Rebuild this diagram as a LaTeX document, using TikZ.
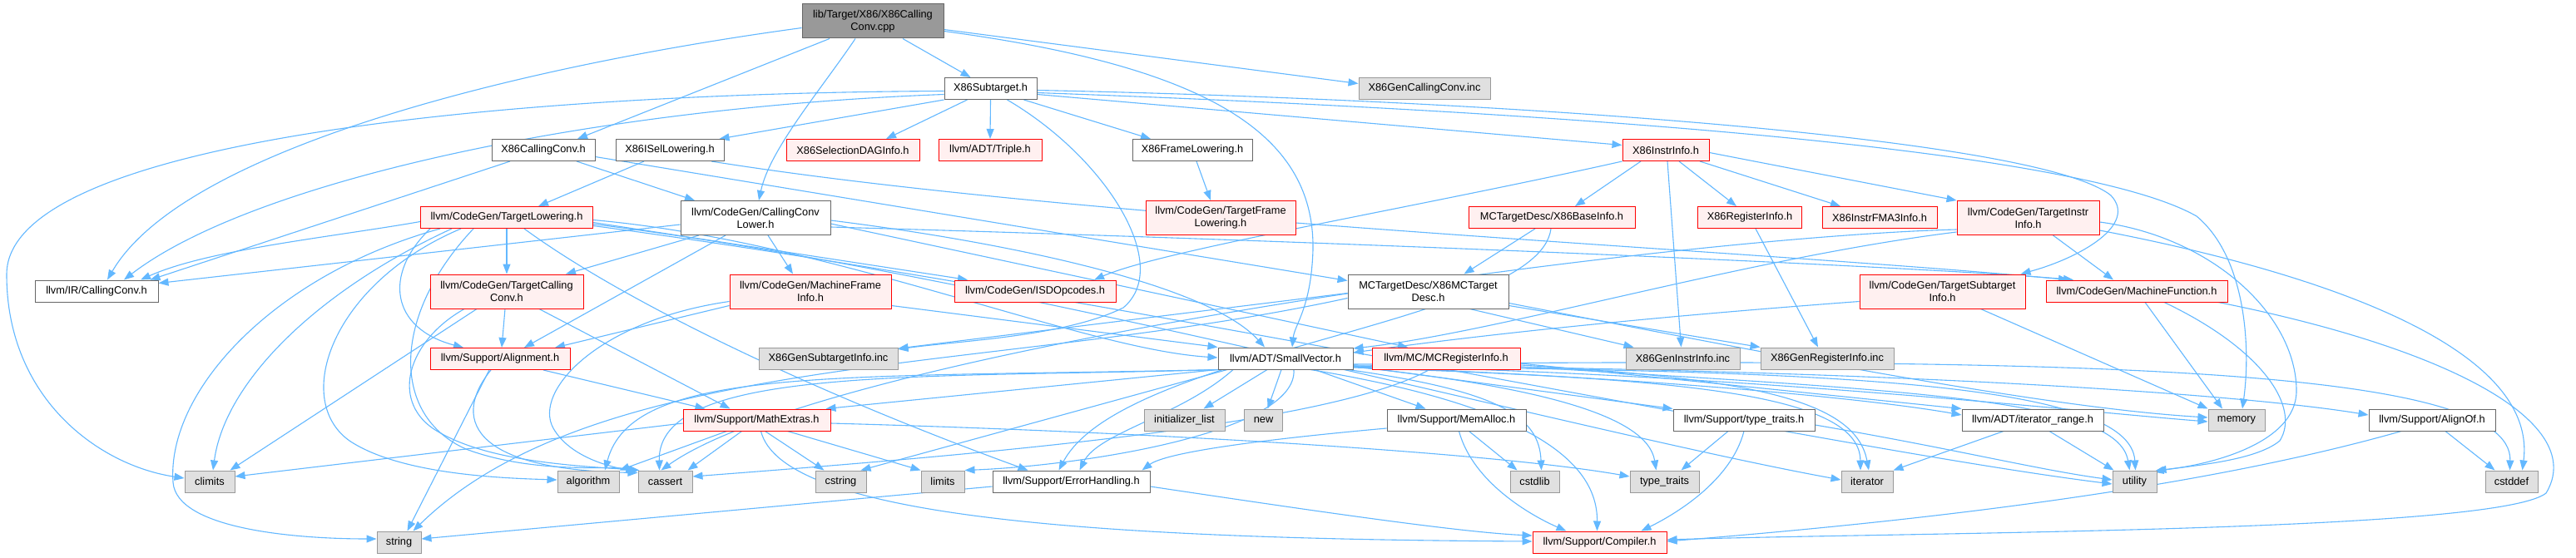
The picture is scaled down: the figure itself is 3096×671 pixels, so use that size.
\documentclass[tikz,border=0pt]{standalone}
\usepackage{fontspec}
\setmainfont{Liberation Sans}
\usetikzlibrary{arrows.meta,positioning,calc}
\definecolor{EdgeBlue}{HTML}{63B8FF}
\definecolor{BoxLine}{HTML}{666666}
\definecolor{RedLine}{HTML}{FF0000}
\definecolor{RedFill}{HTML}{FFF0F0}
\definecolor{SysFill}{HTML}{E0E0E0}
\definecolor{SysLine}{HTML}{999999}
\definecolor{RootFill}{HTML}{999999}
\pgfdeclarelayer{bg}
\pgfsetlayers{bg,main}
\tikzset{
  filebox/.style={draw=BoxLine,fill=white,line width=1pt,minimum height=26pt,inner xsep=2pt,inner ysep=1pt,align=center,font=\fontsize{12.8}{15}\selectfont,text=black},
  redbox/.style={filebox,draw=RedLine,fill=RedFill},
  sysbox/.style={filebox,draw=SysLine,fill=SysFill},
  rootbox/.style={filebox,fill=RootFill},
  twoline/.style={minimum height=41pt},
  edge/.style={-{Triangle[length=12pt,width=9pt]},draw=EdgeBlue,line width=1.1pt}
}
\begin{document}
\begin{tikzpicture}[x=1pt,y=-1pt]
  \useasboundingbox (0,0) rectangle (3096,671);
  % row 0 and 1
  \node[rootbox,twoline,minimum width=170pt] (root) at (1049,25.5) {lib/Target/X86/X86Calling\\Conv.cpp};
  \node[filebox,minimum width=111pt] (sub) at (1190.5,106.5) {X86Subtarget.h};
  \node[sysbox,minimum width=158pt] (gcc) at (1712,106.5) {X86GenCallingConv.inc};
  % row 2
  \node[filebox,minimum width=124pt] (xcc) at (653,180.5) {X86CallingConv.h};
  \node[filebox,minimum width=130pt] (isel) at (805,180.5) {X86ISelLowering.h};
  \node[redbox,minimum width=160pt] (sdag) at (1025,180.5) {X86SelectionDAGInfo.h};
  \node[redbox,minimum width=124pt] (triple) at (1190,180.5) {llvm/ADT/Triple.h};
  \node[filebox,minimum width=144pt] (frl) at (1433,180.5) {X86FrameLowering.h};
  \node[redbox,minimum width=104pt] (ii) at (2002,180.5) {X86InstrInfo.h};
  % row 3
  \node[redbox,minimum width=207pt] (tl) at (609,261.5) {llvm/CodeGen/TargetLowering.h};
  \node[filebox,twoline,minimum width=180pt] (ccl) at (908,262) {llvm/CodeGen/CallingConv\\Lower.h};
  \node[redbox,twoline,minimum width=180pt] (tfl) at (1467,262) {llvm/CodeGen/TargetFrame\\Lowering.h};
  \node[redbox,minimum width=200pt] (bi) at (1865,261.5) {MCTargetDesc/X86BaseInfo.h};
  \node[redbox,minimum width=125pt] (ri) at (2103,261.5) {X86RegisterInfo.h};
  \node[redbox,minimum width=138pt] (fma) at (2259,261.5) {X86InstrFMA3Info.h};
  \node[redbox,twoline,minimum width=171pt] (tii) at (2437.5,262) {llvm/CodeGen/TargetInstr\\Info.h};
  % row 4
  \node[filebox,minimum width=148pt] (ircc) at (116,350) {llvm/IR/CallingConv.h};
  \node[redbox,twoline,minimum width=184pt] (tcc) at (609,350.5) {llvm/CodeGen/TargetCalling\\Conv.h};
  \node[redbox,twoline,minimum width=194pt] (mfi) at (974,350.5) {llvm/CodeGen/MachineFrame\\Info.h};
  \node[redbox,minimum width=194pt] (isd) at (1244,350) {llvm/CodeGen/ISDOpcodes.h};
  \node[filebox,twoline,minimum width=193pt] (mcd) at (1716.5,350.5) {MCTargetDesc/X86MCTarget\\Desc.h};
  \node[redbox,twoline,minimum width=199pt] (tsi) at (2334.5,350.5) {llvm/CodeGen/TargetSubtarget\\Info.h};
  \node[redbox,minimum width=218pt] (mf) at (2568,350) {llvm/CodeGen/MachineFunction.h};
  % row 5
  \node[redbox,minimum width=168pt] (align) at (601,431.5) {llvm/Support/Alignment.h};
  \node[sysbox,minimum width=167pt] (gsi) at (995.5,431) {X86GenSubtargetInfo.inc};
  \node[filebox,minimum width=162pt] (sv) at (1545,431) {llvm/ADT/SmallVector.h};
  \node[redbox,minimum width=178pt] (mcri) at (1738,431) {llvm/MC/MCRegisterInfo.h};
  \node[sysbox,minimum width=137pt] (gii) at (2022.5,431) {X86GenInstrInfo.inc};
  \node[sysbox,minimum width=160pt] (gri) at (2196,431) {X86GenRegisterInfo.inc};
  % row 6
  \node[redbox,minimum width=177pt] (me) at (909.5,505) {llvm/Support/MathExtras.h};
  \node[sysbox,minimum width=97pt] (il) at (1423.5,505) {initializer\_list};
  \node[sysbox,minimum width=46pt] (new) at (1518.5,505) {new};
  \node[filebox,minimum width=167pt] (ma) at (1750.5,505) {llvm/Support/MemAlloc.h};
  \node[filebox,minimum width=170pt] (tth) at (2096,505) {llvm/Support/type\_traits.h};
  \node[filebox,minimum width=170pt] (irng) at (2443,505) {llvm/ADT/iterator\_range.h};
  \node[sysbox,minimum width=68pt] (memory) at (2688,505) {memory};
  \node[filebox,minimum width=152pt] (ao) at (2923,505) {llvm/Support/AlignOf.h};
  % row 7
  \node[sysbox,minimum width=60pt] (climits) at (252,579) {climits};
  \node[sysbox,minimum width=74pt] (algorithm) at (707,579) {algorithm};
  \node[sysbox,minimum width=65pt] (cassert) at (799.5,579) {cassert};
  \node[sysbox,minimum width=61pt] (cstring) at (1010.5,579) {cstring};
  \node[sysbox,minimum width=52pt] (limits) at (1133,579) {limits};
  \node[filebox,minimum width=189pt] (eh) at (1287.5,579) {llvm/Support/ErrorHandling.h};
  \node[sysbox,minimum width=59pt] (cstdlib) at (1844.5,579) {cstdlib};
  \node[sysbox,minimum width=83pt] (tt) at (2000.5,579) {type\_traits};
  \node[sysbox,minimum width=62pt] (iterator) at (2244,579) {iterator};
  \node[sysbox,minimum width=53pt] (utility) at (2565.5,579) {utility};
  \node[sysbox,minimum width=63pt] (cstddef) at (3018.5,579) {cstddef};
  % row 8
  \node[sysbox,minimum width=53pt] (string) at (479.5,652) {string};
  \node[redbox,minimum width=161pt] (comp) at (1922.5,652) {llvm/Support/Compiler.h};

  \begin{pgfonlayer}{bg}
  \path[fill=white] (0,0) rectangle (3096,671);
  % X86CallingConv.cpp
  \draw[edge] ([yshift=-8pt]root.west) .. controls (620,80) and (220,180) .. ([xshift=13pt]ircc.north);
  \draw[edge] ([xshift=-52pt]root.south) -- ([xshift=41pt]xcc.north);
  \draw[edge] ([xshift=-21pt]root.south) .. controls (985,110) and (925,180) .. ([xshift=4pt]ccl.north);
  \draw[edge] ([xshift=36pt]root.south) -- ([xshift=-24pt]sub.north);
  \draw[edge] ([yshift=-10pt]root.east) -- ([yshift=6pt]gcc.west);
  \draw[edge] ([yshift=-12pt]root.east) .. controls (1450,80) and (1580,160) .. (1578,300) .. controls (1576,370) and (1556,390) .. ([xshift=8pt]sv.north);
  % X86Subtarget.h
  \draw[edge] (sub.south west) -- ([xshift=-6pt]isel.north east);
  \draw[edge] ([xshift=-28pt]sub.south) -- ([xshift=40pt]sdag.north);
  \draw[edge] (sub.south) -- (triple.north);
  \draw[edge] ([xshift=40pt]sub.south) -- ([xshift=-50pt]frl.north);
  \draw[edge] ([yshift=-7pt]sub.east) -- ([yshift=6pt]ii.west);
  \draw[edge] ([yshift=-7pt]sub.west) .. controls (700,130) and (300,220) .. ([xshift=33pt]ircc.north);
  \draw[edge] ([yshift=-3pt]sub.west) .. controls (600,112) and (8,170) .. (8,330) .. controls (8,480) and (120,560) .. ([yshift=4pt]climits.west);
  \draw[edge] ([yshift=-2pt]sub.east) .. controls (1800,120) and (2450,165) .. (2537,235) .. controls (2570,270) and (2500,310) .. ([xshift=-6pt]tsi.north east);
  \draw[edge] ([yshift=-5pt]sub.east) .. controls (1900,135) and (2500,180) .. (2640,260) .. controls (2700,310) and (2705,420) .. ([xshift=7pt]memory.north);
  \draw[edge] ([xshift=20pt]sub.south) .. controls (1330,190) and (1410,320) .. (1350,370) .. controls (1280,405) and (1150,410) .. ([yshift=11pt]gsi.east);
  % X86ISelLowering.h, X86CallingConv.h, X86FrameLowering.h
  \draw[edge] ([xshift=-31pt]isel.south) -- ([xshift=38pt]tl.north);
  \draw[edge] ([xshift=50pt]isel.south) .. controls (1300,265) and (2100,300) .. ([xshift=-82pt]mf.north);
  \draw[edge] ([xshift=-40pt]xcc.south) -- ([xshift=-10pt]ircc.north east);
  \draw[edge] ([xshift=40pt]xcc.south) -- ([xshift=-73pt]ccl.north);
  \draw[edge] ([yshift=-8pt]xcc.east) -- ([yshift=13pt]mcd.west);
  \draw[edge] ([xshift=5pt]frl.south) -- ([xshift=-12pt]tfl.north);
  % TargetLowering.h
  \draw[edge] (tl.south) -- (tcc.north);
  \draw[edge] ([yshift=-5pt]tl.west) .. controls (400,285) and (250,300) .. ([xshift=53pt]ircc.north);
  \draw[edge] ([xshift=-80pt]tl.south) .. controls (330,330) and (200,470) .. (208,580) .. controls (212,635) and (350,648) .. ([yshift=4pt]string.west);
  \draw[edge] ([xshift=-66pt]tl.south) .. controls (380,350) and (270,460) .. ([xshift=4pt]climits.north);
  \draw[edge] ([xshift=-55pt]tl.south) .. controls (400,340) and (350,480) .. (420,530) .. controls (480,570) and (600,575) .. ([yshift=2pt]algorithm.west);
  \draw[edge] ([xshift=-40pt]tl.south) .. controls (470,380) and (470,500) .. (560,540) .. controls (640,570) and (730,560) .. ([xshift=-2pt]cassert.north west);
  \draw[edge] ([xshift=-92pt]tl.south) .. controls (460,330) and (470,395) .. ([xshift=-44pt]align.north);
  \draw[edge] ([yshift=-3pt]tl.east) .. controls (1000,290) and (1300,420) .. ([yshift=1pt]sv.west);
  \draw[edge] ([yshift=-6pt]tl.east) -- ([xshift=-81pt]isd.north);
  \draw[edge] ([xshift=21pt]tl.south) .. controls (760,370) and (1000,480) .. ([xshift=-52pt]eh.north);
  \draw[edge] ([yshift=-8pt]tl.east) .. controls (1200,330) and (1900,520) .. ([yshift=2pt]iterator.west);
  \draw[edge] ([yshift=-10pt]tl.east) .. controls (1300,350) and (2200,540) .. ([yshift=-3pt]utility.west);
  % CallingConvLower.h
  \draw[edge] ([yshift=-8pt]ccl.west) -- ([yshift=-4pt]ircc.north east);
  \draw[edge] ([xshift=-68pt]ccl.south) -- ([xshift=71pt]tcc.north);
  \draw[edge] ([xshift=-36pt]ccl.south) -- ([xshift=29pt]align.north);
  \draw[edge] ([xshift=15pt]ccl.south) -- ([xshift=-21pt]mfi.north);
  \draw[edge] ([yshift=-3pt]ccl.east) .. controls (1200,290) and (1450,340) .. ([xshift=-25pt]sv.north);
  \draw[edge] ([yshift=-7pt]ccl.east) -- ([xshift=-46pt]mcri.north);
  \draw[edge] ([yshift=-11pt]ccl.east) .. controls (1600,290) and (2300,320) .. ([xshift=-76pt]mf.north);
  % TargetCallingConv.h, Alignment.h, MachineFrameInfo.h
  \draw[edge] ([xshift=-2pt]tcc.south) -- ([xshift=2pt]align.north);
  \draw[edge] ([xshift=39pt]tcc.south) -- ([xshift=-32pt]me.north);
  \draw[edge] ([xshift=-36pt]tcc.south) -- ([xshift=-6pt]climits.north east);
  \draw[edge] ([xshift=-51pt]tcc.south) .. controls (490,410) and (470,480) .. (520,515) .. controls (580,555) and (690,560) .. ([xshift=2pt]cassert.north west);
  \draw[edge] ([xshift=52pt]align.south) -- ([xshift=-62pt]me.north);
  \draw[edge] ([xshift=-11pt]align.south) .. controls (545,500) and (560,565) .. ([yshift=-3pt]cassert.north west);
  \draw[edge] ([xshift=-13pt]align.south) -- ([xshift=10pt]string.north);
  \draw[edge] ([yshift=-17pt]mfi.west) -- ([xshift=66pt]align.north);
  \draw[edge] ([yshift=-17pt]mfi.east) -- (sv.north west);
  \draw[edge] ([yshift=-12pt]mfi.west) .. controls (720,385) and (640,470) .. (665,515) .. controls (685,550) and (735,562) .. ([xshift=-1pt,yshift=-1pt]cassert.north west);
  % X86MCTargetDesc.h, X86BaseInfo.h, X86RegisterInfo.h
  \draw[edge] ([xshift=50pt]mcd.south) -- ([xshift=-59pt]gii.north);
  \draw[edge] ([yshift=-17pt]mcd.east) -- (gri.north west);
  \draw[edge] ([yshift=-2pt]mcd.west) -- ([yshift=12pt]gsi.east);
  \draw[edge] ([yshift=-8pt]mcd.west) .. controls (1200,450) and (720,420) .. ([xshift=17pt]string.north);
  \draw[edge] ([yshift=-14pt]mcd.east) .. controls (2100,420) and (2450,490) .. ([yshift=3pt]memory.west);
  \draw[edge] ([xshift=-20pt]bi.south) -- ([xshift=43pt]mcd.north);
  \draw[edge] ([xshift=-1pt]bi.south) .. controls (1850,390) and (1350,420) .. ([xshift=-15pt]eh.north);
  \draw[edge] ([xshift=7pt]ri.south) -- ([xshift=-11pt]gri.north);
  % X86InstrInfo.h
  \draw[edge] ([xshift=-30pt]ii.south) -- ([xshift=28pt]bi.north);
  \draw[edge] ([xshift=16pt]ii.south) -- ([xshift=-16pt]ri.north);
  \draw[edge] ([xshift=41pt]ii.south) -- ([xshift=-47pt]fma.north);
  \draw[edge] ([xshift=2pt]ii.south) -- ([xshift=-2pt]gii.north);
  \draw[edge] (ii.south west) .. controls (1700,250) and (1400,300) .. ([xshift=71pt]isd.north);
  \draw[edge] ([yshift=-3pt]ii.east) -- (tii.north west);
  % TargetInstrInfo.h, TargetSubtargetInfo.h, MachineFunction.h
  \draw[edge] ([xshift=30pt]tii.south) -- ([xshift=-28pt]mf.north);
  \draw[edge] ([yshift=-5pt]tii.east) .. controls (2660,285) and (2760,380) .. (2760,470) .. controls (2760,535) and (2650,560) .. ([xshift=-1pt]utility.north east);
  \draw[edge] ([yshift=-15pt]tii.east) .. controls (2800,330) and (3050,420) .. ([xshift=13pt]cstddef.north);
  \draw[edge] ([yshift=-17pt]tii.west) .. controls (2100,310) and (1800,400) .. ([yshift=12pt]sv.east);
  \draw[edge] ([yshift=-14pt]tii.west) .. controls (2000,285) and (1000,420) .. ([xshift=-5pt]cassert.north);
  \draw[edge] ([xshift=46pt]tsi.south) -- (memory.north west);
  \draw[edge] ([yshift=-12pt]tsi.west) .. controls (2000,380) and (1800,400) .. ([yshift=7pt]sv.east);
  \draw[edge] ([xshift=10pt]mf.south) -- ([xshift=-17pt]memory.north);
  \draw[edge] ([xshift=33pt]mf.south) .. controls (2720,420) and (2765,490) .. (2740,530) .. controls (2710,555) and (2630,560) .. ([xshift=-4pt,yshift=-2pt]utility.north east);
  \draw[edge] ([xshift=98pt]mf.south) .. controls (2950,420) and (3110,510) .. (3060,593) .. controls (3000,640) and (2300,640) .. ([yshift=3pt]comp.east);
  % MCRegisterInfo.h
  \draw[edge] ([xshift=-20pt]mcri.south) .. controls (1600,510) and (1200,545) .. ([yshift=6pt]cassert.east);
  \draw[edge] ([yshift=-8pt]mcri.east) .. controls (2100,455) and (2230,480) .. ([xshift=2pt]iterator.north);
  \draw[edge] ([yshift=-6pt]mcri.east) -- (irng.north west);
  \draw[edge] ([yshift=-10pt]mcri.east) .. controls (2300,470) and (2545,480) .. ([xshift=-6pt]utility.north);
  % SmallVector.h
  \draw[edge] ([xshift=-22pt]sv.south) -- ([xshift=23pt]il.north);
  \draw[edge] ([xshift=-5pt]sv.south) -- ([xshift=5pt]new.north);
  \draw[edge] ([xshift=35pt]sv.south) -- ([xshift=-37pt]ma.north);
  \draw[edge] ([xshift=-63pt]sv.south) .. controls (1420,500) and (1320,520) .. ([xshift=10pt]eh.north);
  \draw[edge] (sv.south west) -- ([xshift=-6pt]me.north east);
  \draw[edge] ([xshift=-70pt]sv.south) -- ([xshift=24pt]cstring.north);
  \draw[edge] ([xshift=-78pt]sv.south) .. controls (1100,455) and (790,440) .. ([xshift=-7pt]cassert.north);
  \draw[edge] ([xshift=-80pt]sv.south) .. controls (1000,455) and (760,440) .. ([xshift=20pt]algorithm.north);
  \draw[edge] ([xshift=10pt]sv.south) .. controls (1560,520) and (1300,560) .. (limits.north east);
  \draw[edge] ([xshift=75pt]sv.south) .. controls (1800,470) and (1850,500) .. ([xshift=8pt]cstdlib.north);
  \draw[edge] ([yshift=-10pt]sv.east) .. controls (1850,465) and (1980,500) .. ([xshift=-10pt]tt.north);
  \draw[edge] ([yshift=-11pt]sv.east) .. controls (2000,455) and (2235,470) .. ([xshift=-8pt]iterator.north);
  \draw[edge] ([xshift=30pt]sv.south) .. controls (1850,490) and (1920,560) .. ([xshift=-3pt]comp.north);
  \draw[edge] ([yshift=-9pt]sv.east) -- (tth.north west);
  \draw[edge] ([yshift=-10pt]sv.east) .. controls (2000,455) and (2250,480) .. ([yshift=6pt]irng.west);
  \draw[edge] ([yshift=-9pt]sv.east) .. controls (2100,450) and (2500,495) .. ([yshift=-2pt]memory.west);
  \draw[edge] ([yshift=-10pt]sv.east) .. controls (2200,445) and (2560,460) .. ([xshift=1pt]utility.north);
  \draw[edge] ([yshift=-8pt]sv.east) .. controls (2300,445) and (2700,475) .. ([yshift=6pt]ao.west);
  \draw[edge] ([yshift=-7pt]sv.east) .. controls (2500,430) and (3020,440) .. ([xshift=-2pt]cstddef.north);
  % MathExtras.h
  \draw[edge] ([xshift=-36pt]me.south) -- (algorithm.north east);
  \draw[edge] ([xshift=-18pt]me.south) -- ([xshift=27pt]cassert.north);
  \draw[edge] ([xshift=10pt]me.south) -- ([xshift=-20pt]cstring.north);
  \draw[edge] ([xshift=37pt]me.south) -- (limits.north west);
  \draw[edge] ([yshift=-4pt]me.west) -- ([yshift=6pt]climits.east);
  \draw[edge] ([xshift=5pt]me.south) .. controls (940,620) and (1300,648) .. ([yshift=1pt]comp.west);
  \draw[edge] ([yshift=-4pt]me.east) .. controls (1400,520) and (1800,545) .. ([yshift=6pt]tt.west);
  % the lower headers
  \draw[edge] ([yshift=-6pt]eh.west) -- ([yshift=4pt]string.east);
  \draw[edge] ([yshift=-6pt]eh.east) .. controls (1550,610) and (1750,640) .. ([yshift=8pt]comp.west);
  \draw[edge] ([yshift=-10pt]ma.west) .. controls (1500,530) and (1400,545) .. ([xshift=-10pt]eh.north east);
  \draw[edge] ([xshift=15pt]ma.south) -- ([xshift=-21pt]cstdlib.north);
  \draw[edge] ([xshift=3pt]ma.south) .. controls (1770,580) and (1840,620) .. ([xshift=-40pt]comp.north);
  \draw[edge] ([xshift=-19pt]tth.south) -- ([xshift=20pt]tt.north);
  \draw[edge] (tth.south) .. controls (2080,580) and (2010,620) .. ([xshift=50pt]comp.north);
  \draw[edge] ([yshift=-6pt]tth.east) .. controls (2350,540) and (2450,565) .. ([yshift=2pt]utility.west);
  \draw[edge] ([xshift=-35pt]irng.south) -- (iterator.north east);
  \draw[edge] ([xshift=20pt]irng.south) -- ([xshift=-25pt]utility.north);
  \draw[edge] ([xshift=16pt]ao.south) -- ([xshift=-20pt]cstddef.north);
  \draw[edge] ([xshift=-37pt]ao.south) .. controls (2600,600) and (2200,635) .. ([yshift=1pt]comp.east);
  \end{pgfonlayer}
\end{tikzpicture}
\end{document}
